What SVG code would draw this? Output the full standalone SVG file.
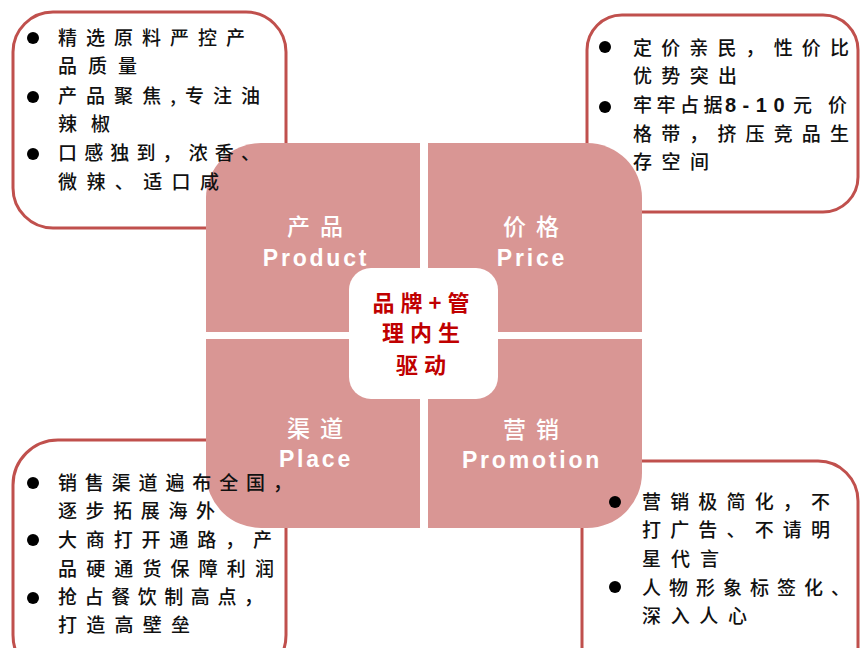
<svg xmlns="http://www.w3.org/2000/svg" width="860" height="648" viewBox="0 0 860 648">
<style>
.box{fill:#ffffff;stroke:#c0504d;stroke-width:3}
.quad{fill:#d99694}
.note{font-family:"Noto Sans CJK SC","Noto Sans",sans-serif;font-size:19px;fill:#111111;font-weight:500}
.num{font-family:"Liberation Sans",Arial,sans-serif;font-size:20px;letter-spacing:6.5px;font-weight:700}
.dot{fill:#000000}
.qcn{font-family:"Noto Sans CJK SC","Noto Sans",sans-serif;font-size:23px;letter-spacing:10px;fill:#ffffff;text-anchor:middle;font-weight:500}
.qen{font-family:"Liberation Sans",Arial,sans-serif;font-size:23px;letter-spacing:2.8px;fill:#ffffff;text-anchor:middle;font-weight:700}
.core{font-family:"Noto Sans CJK SC","Noto Sans",sans-serif;font-size:22px;letter-spacing:6px;fill:#c00000;text-anchor:middle;font-weight:700}
</style>
<rect width="860" height="648" fill="#ffffff"/>
<!-- note boxes (shapes, under the quadrants) -->
<g id="product-notes-box"><rect class="box" x="13" y="12" width="273" height="216" rx="40"/></g>
<g id="price-notes-box"><rect class="box" x="587" y="15" width="271" height="197" rx="35"/></g>
<g id="place-notes-box"><rect class="box" x="13" y="440" width="273" height="240" rx="45"/></g>
<g id="promotion-notes-box"><rect class="box" x="582" y="461" width="276" height="230" rx="40"/></g>
<!-- quadrant nodes -->
<g id="product">
<path class="quad" d="M206,198 A55,55 0 0 1 261,143 L420,143 L420,332 L206,332 Z"/>
<text class="qcn" x="320" y="235">产品</text>
<text class="qen" x="316" y="266">Product</text>
</g>
<g id="price">
<path class="quad" d="M428,143 L587,143 A55,55 0 0 1 642,198 L642,332 L428,332 Z"/>
<text class="qcn" x="536" y="235">价格</text>
<text class="qen" x="532" y="266">Price</text>
</g>
<g id="place">
<path class="quad" d="M206,339 L420,339 L420,528 L261,528 A55,55 0 0 1 206,473 Z"/>
<text class="qcn" x="320" y="437">渠道</text>
<text class="qen" x="316" y="467">Place</text>
</g>
<g id="promotion">
<path class="quad" d="M428,339 L642,339 L642,473 A55,55 0 0 1 587,528 L428,528 Z"/>
<text class="qcn" x="536" y="438">营销</text>
<text class="qen" x="532" y="468">Promotion</text>
</g>
<g id="core">
<rect x="349" y="268" width="149" height="131" rx="22" fill="#ffffff"/>
<text class="core" x="424" y="311">品牌+管</text>
<text class="core" x="424" y="341">理内生</text>
<text class="core" x="424" y="373">驱动</text>
</g>
<!-- note texts (drawn above the quadrants) -->
<g id="product-notes">
<circle class="dot" cx="33" cy="38" r="6"/>
<circle class="dot" cx="33" cy="97" r="6"/>
<circle class="dot" cx="33" cy="154" r="6"/>
<text class="note" x="58" y="45" textLength="187" lengthAdjust="spacing">精选原料严控产</text>
<text class="note" x="58" y="73" textLength="79" lengthAdjust="spacing">品质量</text>
<text class="note" x="58" y="103" textLength="202" lengthAdjust="spacing">产品聚焦,专注油</text>
<text class="note" x="58" y="131" textLength="52" lengthAdjust="spacing">辣椒</text>
<text class="note" x="58" y="160" textLength="202" lengthAdjust="spacing">口感独到，浓香、</text>
<text class="note" x="58" y="189" textLength="161" lengthAdjust="spacing">微辣、适口咸</text>
</g>
<g id="price-notes">
<circle class="dot" cx="605" cy="47" r="6"/>
<circle class="dot" cx="605" cy="107" r="6"/>
<text class="note" x="633" y="55" textLength="216" lengthAdjust="spacing">定价亲民，性价比</text>
<text class="note" x="633" y="83" textLength="104" lengthAdjust="spacing">优势突出</text>
<text class="note" y="112"><tspan x="633" style="letter-spacing:4.5px">牢牢占据</tspan><tspan class="num" x="725">8-10</tspan><tspan x="793">元</tspan><tspan x="828">价</tspan></text>
<text class="note" x="633" y="141" textLength="216" lengthAdjust="spacing">格带，挤压竞品生</text>
<text class="note" x="633" y="169" textLength="76" lengthAdjust="spacing">存空间</text>
</g>
<g id="place-notes">
<circle class="dot" cx="33" cy="483" r="6"/>
<circle class="dot" cx="33" cy="540" r="6"/>
<circle class="dot" cx="33" cy="598" r="6"/>
<text class="note" x="58" y="490" textLength="234" lengthAdjust="spacing">销售渠道遍布全国，</text>
<text class="note" x="58" y="518" textLength="157" lengthAdjust="spacing">逐步拓展海外</text>
<text class="note" x="58" y="547" textLength="214" lengthAdjust="spacing">大商打开通路，产</text>
<text class="note" x="58" y="576" textLength="216" lengthAdjust="spacing">品硬通货保障利润</text>
<text class="note" x="58" y="604" textLength="205" lengthAdjust="spacing">抢占餐饮制高点，</text>
<text class="note" x="58" y="632" textLength="132" lengthAdjust="spacing">打造高壁垒</text>
</g>
<g id="promotion-notes">
<circle class="dot" cx="615" cy="502" r="6"/>
<circle class="dot" cx="615" cy="587" r="6"/>
<text class="note" x="642" y="509" textLength="188" lengthAdjust="spacing">营销极简化，不</text>
<text class="note" x="642" y="537" textLength="188" lengthAdjust="spacing">打广告、不请明</text>
<text class="note" x="642" y="566" textLength="77" lengthAdjust="spacing">星代言</text>
<text class="note" x="642" y="595" textLength="208" lengthAdjust="spacing">人物形象标签化、</text>
<text class="note" x="642" y="623" textLength="105" lengthAdjust="spacing">深入人心</text>
</g>
<g id="connectors"></g>
</svg>
